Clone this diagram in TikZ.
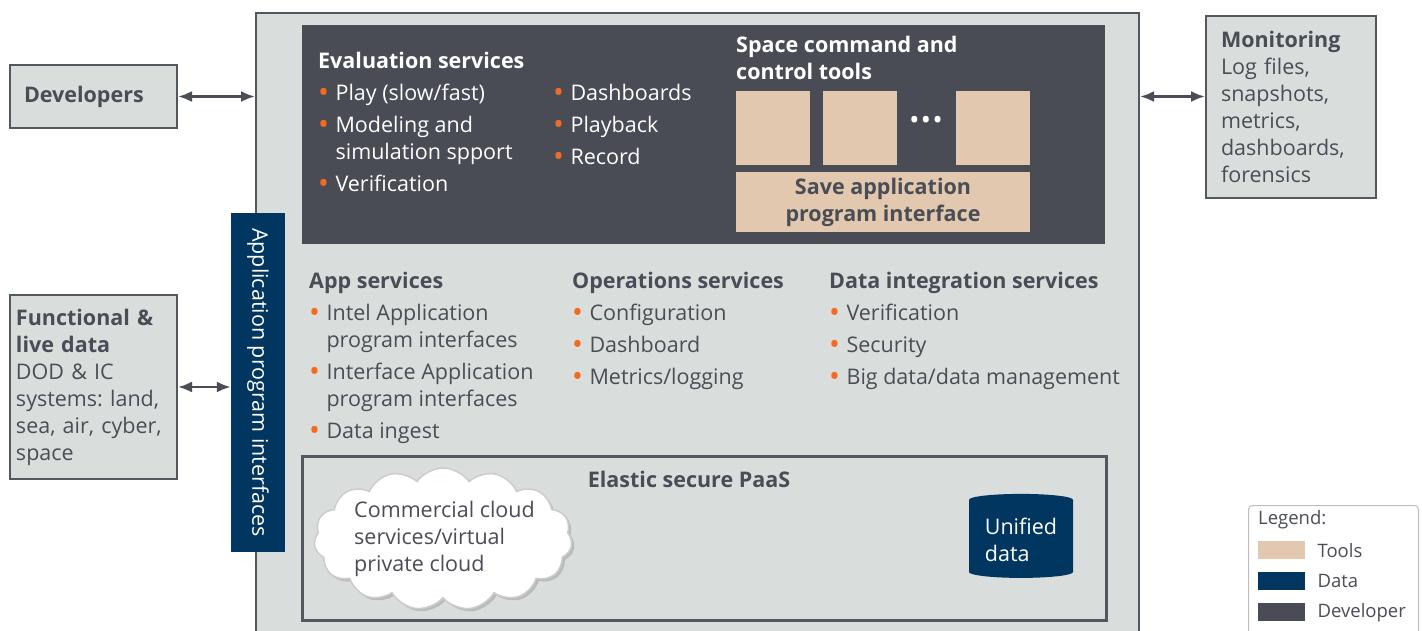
\documentclass[tikz,border=0pt]{standalone}
\usepackage{fontspec}
\usepackage{graphicx}
\setmainfont{Open Sans}
\usetikzlibrary{positioning}
\usetikzlibrary{arrows.meta}
\usetikzlibrary{shapes.geometric,shapes.symbols,shadows}

\definecolor{panel}{HTML}{D9DDDC}
\definecolor{edge}{HTML}{53575E}
\definecolor{devgrey}{HTML}{494C55}
\definecolor{tooltan}{HTML}{E1C8AF}
\definecolor{datablue}{HTML}{00365F}
\definecolor{dot}{HTML}{F26B21}
\definecolor{ink}{HTML}{4A4D55}

\newcommand{\bul}{\textcolor{dot}{\raisebox{-0.1em}{\scalebox{1.35}{\textbullet}}}\hspace{0.3em}}
\newcommand{\hang}{\hphantom{\bul}}
\frenchspacing

\begin{document}
\begin{tikzpicture}[x=1pt, y=-1pt,
  every node/.style={font=\fontsize{21.5}{27}\selectfont, text=ink},
  box/.style={draw=edge, line width=2pt, fill=panel, anchor=north west, align=left},
  txt/.style={anchor=north west, align=left, inner sep=0pt, execute at begin node=\strut},
  tool/.style={fill=tooltan, minimum width=74pt, minimum height=74pt, inner sep=0pt},
  link/.style={{Latex[length=14pt,width=11pt]}-{Latex[length=14pt,width=11pt]}, draw=ink, line width=2.5pt},
  swatch/.style={minimum width=47pt, minimum height=18pt, inner sep=0pt, anchor=north west},
  keytext/.style={font=\fontsize{18.5}{27}\selectfont, inner sep=0pt}]

\useasboundingbox (0,0) rectangle (1422,630);
\clip (0,0) rectangle (1422,630);
\fill[white] (0,0) rectangle (1422,630);

% Cadre principal
\node[box, minimum width=883pt, minimum height=640pt, inner sep=0pt] (main) at (255,12) {};

% Zone développeur
\node[fill=devgrey, anchor=north west, minimum width=803pt, minimum height=219pt, inner sep=0pt] (devzone) at (302,25) {};
\node[txt, text=white] (evalsvc) at (318,52.1) {\textbf{Evaluation services}\\[5pt]\bul Play (slow/fast)\\[5pt]\bul Modeling and\\\hang simulation spport\\[5pt]\bul Verification};
\node[txt, text=white] (evalmore) at (553,84.1) {\bul Dashboards\\[5pt]\bul Playback\\[5pt]\bul Record};
\node[txt, text=white] (spacetools) at (736,36.1) {\textbf{Space command and}\\\textbf{control tools}};

% Outils
\node[tool] (toolA) at (773,128) {};
\node[tool] (toolB) at (860,128) {};
\node[tool] (toolC) at (993,128) {};
\node[text=white, inner sep=0pt] (more) at (926,122) {\textbf{\textbullet\,\textbullet\,\textbullet}};
\node[tool, minimum width=294pt, minimum height=60pt, align=center] (saveapi) at (883,202) {\textbf{Save application}\\\textbf{program interface}};

% Services
\node[txt] (appsvc) at (309,272.1) {\textbf{App services}\\[5pt]\bul Intel Application\\\hang program interfaces\\[5pt]\bul Interface Application\\\hang program interfaces\\[5pt]\bul Data ingest};
\node[txt] (opssvc) at (572,272.1) {\textbf{Operations services}\\[5pt]\bul Configuration\\[5pt]\bul Dashboard\\[5pt]\bul Metrics/logging};
\node[txt] (datasvc) at (829,272.1) {\textbf{Data integration services}\\[5pt]\bul Verification\\[5pt]\bul Security\\[5pt]\bul Big data/data management};

% PaaS
\node[draw=edge, line width=2.5pt, anchor=north west, minimum width=804pt, minimum height=164pt, inner sep=0pt] (paas) at (301,455) {};
\node (paastitle) at (689,479) {\textbf{Elastic secure PaaS}};
\node[cloud, cloud puffs=15, cloud puff arc=110, aspect=1.8, draw=gray!40, line width=1.5pt, fill=white, drop shadow={opacity=0.35}, minimum width=258pt, minimum height=142pt, inner sep=0pt] (cloud) at (443,539) {};
\node[txt] (cloudtext) at (354,501.1) {Commercial cloud\\services/virtual\\private cloud};
\node[cylinder, shape border rotate=90, aspect=0.15, fill=datablue, text=white, minimum width=104pt, minimum height=84pt, align=left] (unified) at (1021,540) {Unified\\data};

% Bandeau API
\node[fill=datablue, text=white, rotate=-90, minimum width=339pt, minimum height=54pt, inner sep=0pt] (apibar) at (258,382.5) {Application program interfaces};

% Acteurs externes
\node[box, minimum width=167pt, minimum height=63pt, text width=139pt, inner xsep=14pt] (dev) at (9,64) {\textbf{Developers}};
\node[box, minimum width=170pt, minimum height=182pt, text width=140pt, inner xsep=15pt] (monitor) at (1205,15) {\textbf{Monitoring}\\Log files,\\snapshots,\\metrics,\\dashboards,\\forensics};
\node[box, minimum width=167pt, minimum height=184pt, text width=155pt, inner xsep=6pt] (func) at (9,294) {\textbf{Functional \&}\\\textbf{live data}\\DOD \& IC\\systems: land,\\sea, air, cyber,\\space};

% Flèches
\draw[link] (dev.east) -- (dev.east -| main.west);
\draw[link] (main.east |- dev.east) -- (monitor.west |- dev.east);
\draw[link] (func.east) -- (func.east -| apibar.south);

% Légende
\node[draw=gray!50, line width=1pt, rounded corners=4pt, fill=white, anchor=north west, minimum width=170pt, minimum height=140pt] (legend) at (1248,505) {};
\node[keytext, anchor=west] (legendtitle) at (1258,520) {Legend:};
\node[swatch, fill=tooltan] (keytools) at (1258,541) {};
\node[swatch, fill=datablue] (keydata) at (1258,572) {};
\node[swatch, fill=devgrey] (keydev) at (1258,603) {};
\node[keytext, right=12pt of keytools] (keytoolslbl) {Tools};
\node[keytext, right=12pt of keydata] (keydatalbl) {Data};
\node[keytext, right=12pt of keydev] (keydevlbl) {Developer};

\end{tikzpicture}
\end{document}
